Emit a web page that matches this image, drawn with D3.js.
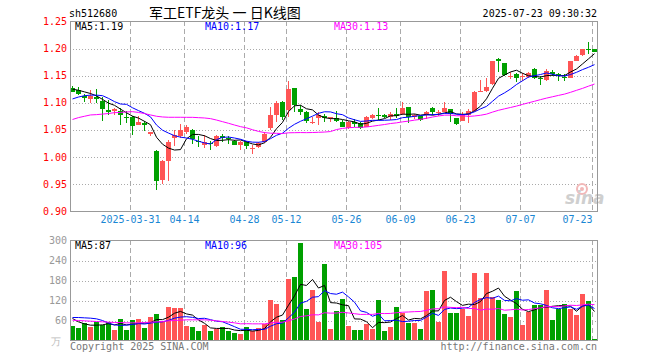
<!DOCTYPE html>
<html><head><meta charset="utf-8">
<script src="https://cdn.jsdelivr.net/npm/d3@7"></script>
<style>
body{margin:0;background:#fff;}
svg{display:block;}
text{font-family:"DejaVu Sans Mono",monospace;font-size:10px;}
</style></head><body>
<svg id="c" width="660" height="360"></svg>
<script>
// ---------- DATA ----------
const dates = ["03-17","03-18","03-19","03-20","03-21","03-24","03-25","03-26","03-27","03-28",
"03-31","04-01","04-02","04-03","04-07","04-08","04-09","04-10","04-11","04-14",
"04-15","04-16","04-17","04-18","04-21","04-22","04-23","04-24","04-25","04-28",
"04-29","04-30","05-06","05-07","05-08","05-09","05-12","05-13","05-14","05-15",
"05-16","05-19","05-20","05-21","05-22","05-23","05-26","05-27","05-28","05-29",
"05-30","06-03","06-04","06-05","06-06","06-09","06-10","06-11","06-12","06-13",
"06-16","06-17","06-18","06-19","06-20","06-23","06-24","06-25","06-26","06-27",
"06-30","07-01","07-02","07-03","07-04","07-07","07-08","07-09","07-10","07-11",
"07-14","07-15","07-16","07-17","07-18","07-21","07-22","07-23"];
const open = [1.128,1.124,1.113,1.106,1.111,1.104,1.087,1.084,1.084,1.073,
1.074,1.058,1.063,1.042,1.010,0.958,0.993,1.035,1.039,1.045,
1.049,1.030,1.022,1.025,1.020,1.038,1.035,1.030,1.022,1.027,
1.014,1.019,1.027,1.054,1.077,1.102,1.087,1.128,1.088,1.083,
1.0625,1.071,1.076,1.072,1.072,1.064,1.053,1.064,1.062,1.056,
1.071,1.077,1.077,1.074,1.079,1.079,1.093,1.074,1.076,1.077,
1.091,1.081,1.083,1.088,1.072,1.066,1.077,1.085,1.119,1.122,
1.134,1.180,1.173,1.148,1.153,1.148,1.148,1.162,1.146,1.142,
1.157,1.1525,1.148,1.146,1.177,1.188,1.199,1.199];
const high = [1.131,1.129,1.117,1.123,1.125,1.111,1.105,1.091,1.091,1.085,
1.076,1.076,1.066,1.046,1.013,0.994,1.032,1.049,1.060,1.058,
1.051,1.038,1.040,1.030,1.040,1.042,1.039,1.032,1.030,1.030,
1.022,1.027,1.045,1.093,1.103,1.104,1.140,1.128,1.096,1.085,
1.074,1.083,1.079,1.074,1.085,1.068,1.066,1.070,1.064,1.075,
1.080,1.091,1.079,1.082,1.091,1.102,1.093,1.080,1.076,1.085,
1.093,1.087,1.101,1.088,1.072,1.082,1.088,1.122,1.142,1.145,
1.177,1.182,1.173,1.156,1.154,1.154,1.156,1.165,1.150,1.162,
1.161,1.1555,1.1525,1.177,1.189,1.199,1.213,1.200];
const low = [1.119,1.115,1.102,1.099,1.099,1.067,1.077,1.077,1.059,1.062,
1.041,1.058,1.047,1.038,0.938,0.950,0.956,1.020,1.034,1.043,
1.023,1.019,1.017,1.013,1.019,1.027,1.024,1.022,1.012,1.015,
1.005,1.016,1.025,1.050,1.064,1.068,1.074,1.083,1.077,1.062,
1.060,1.058,1.064,1.064,1.064,1.055,1.051,1.055,1.051,1.055,
1.070,1.068,1.071,1.068,1.071,1.077,1.062,1.070,1.067,1.070,
1.077,1.076,1.082,1.064,1.059,1.066,1.063,1.083,1.119,1.120,
1.132,1.157,1.150,1.144,1.139,1.141,1.145,1.143,1.132,1.141,
1.150,1.141,1.141,1.145,1.177,1.187,1.190,1.194];
const close = [1.120,1.117,1.108,1.112,1.106,1.088,1.082,1.088,1.077,1.072,
1.057,1.064,1.058,1.046,0.956,0.993,1.028,1.040,1.050,1.056,
1.033,1.028,1.028,1.024,1.038,1.035,1.034,1.022,1.027,1.020,
1.016,1.025,1.042,1.077,1.100,1.074,1.125,1.095,1.083,1.067,
1.064,1.077,1.071,1.074,1.067,1.056,1.065,1.061,1.053,1.074,
1.077,1.075,1.074,1.079,1.075,1.091,1.074,1.077,1.068,1.083,
1.083,1.082,1.090,1.080,1.061,1.080,1.085,1.120,1.122,1.129,
1.177,1.177,1.151,1.150,1.145,1.149,1.154,1.145,1.144,1.158,
1.1525,1.150,1.146,1.177,1.186,1.199,1.197,1.194];
const volume = [43,38,52,41,56,48,56,32,65,32,
61,65,38,71,80,59,101,98,98,43,
41,29,47,29,35,41,29,23,20,41,
29,38,50,122,110,62,185,191,293,95,
152,56,230,35,89,125,43,32,32,50,
35,122,29,41,101,83,53,53,35,149,
152,56,209,83,83,96,74,203,128,203,
131,122,80,71,149,47,86,107,106,152,
62,95,110,95,77,140,118,5];
// moving-average values before a full window is available
const ma5Lead  = [1.125,1.123,1.120,1.117];
const ma10Lead = [1.107,1.1105,1.113,1.114,1.114,1.113,1.108,1.102,1.0976];
const ma30Lead = [1.069,1.0725,1.075,1.0774,1.078,1.079,1.080,1.0817,1.082,1.083,1.0835,1.082,1.080,1.0774,1.075,
1.0737,1.0731,1.0731,1.0731,1.073,1.073,1.0724,1.0718,1.0706,1.068,1.065,1.062,1.0588,1.0558];
const vma5Lead  = [66,56,50,46];
const vma10Lead = [69,69,68,67,65,60,52,47,45];
const vma30Lead = [61,60,59,58,57,56,55,54,54,53,53,53,54,55,56,57,59,60,61,62,62,62,62,61,59,57,55,53,50];
const priceTicks = [1.25,1.20,1.15,1.10,1.05,1.00,0.95,0.90];
const volTicks = [300,240,180,120,60];
const tickDates = ["03-31","04-14","04-28","05-12","05-26","06-09","06-23","07-07","07-23"];
const tickLabels = ["2025-03-31","04-14","04-28","05-12","05-26","06-09","06-23","07-07","07-23"];
const priceMALabels = ["MA5:1.19","MA10:1.17","MA30:1.13"];
const volMALabels = ["MA5:87","MA10:96","MA30:105"];
const symbol = "sh512680";
const title = "军工ETF龙头 一 日K线图";
const stamp = "2025-07-23 09:30:32";

// ---------- DRAW ----------
const RED="#ff5555", GREEN="#00a000", GRID="#aaaaaa";
const svg = d3.select("#c");
const n = dates.length;
const x = d3.scaleLinear().domain([0,88]).range([70,598]);
const yP = d3.scaleLinear().domain([0.90,1.25]).range([211,21.5]);
const yV = d3.scaleLinear().domain([0,300]).range([340.5,240.5]);
const cx = i => x(i)+2.5;
function ma(arr,k,lead){return arr.map((_,i)=> i<k-1 ? lead[i] : d3.mean(arr.slice(i-k+1,i+1)));}
const tickIdx = tickDates.map(d=>dates.indexOf(d));

function panel(top,bottom,yScale,hTicks){
  const g = svg.append("g");
  g.selectAll("line.h").data(hTicks).join("line")
    .attr("x1",70).attr("x2",597)
    .attr("y1",d=>Math.round(yScale(d))+0.5).attr("y2",d=>Math.round(yScale(d))+0.5)
    .attr("stroke",GRID).attr("stroke-dasharray","1,2").attr("shape-rendering","crispEdges");
  g.selectAll("line.v").data(tickIdx).join("line")
    .attr("x1",i=>Math.round(x(i))+0.5).attr("x2",i=>Math.round(x(i))+0.5)
    .attr("y1",top).attr("y2",bottom)
    .attr("stroke",GRID).attr("stroke-dasharray","5,3").attr("shape-rendering","crispEdges");
  return g;
}
panel(21,211,yP,[1.20,1.15,1.10,1.05,1.00,0.95]);
panel(240,340,yV,[240,180,120,60]);

// watermark
const wm = svg.append("g");
wm.append("circle").attr("cx",582).attr("cy",189).attr("r",5).attr("fill","none").attr("stroke","#f2b8b8").attr("stroke-width",2);
wm.append("circle").attr("cx",582).attr("cy",189).attr("r",2).attr("fill","#f2b8b8");
wm.append("text").attr("x",565).attr("y",204).text("sina")
  .style("font-family","DejaVu Sans").style("font-size","17px").style("font-weight","bold").style("font-style","italic").attr("fill","#cfcfcf");

// candles
const cg = svg.append("g").attr("shape-rendering","crispEdges");
const idx = d3.range(n);
const col = i => close[i]>=open[i]?RED:GREEN;
cg.selectAll("line").data(idx).join("line")
  .attr("x1",i=>Math.floor(cx(i))+0.5).attr("x2",i=>Math.floor(cx(i))+0.5)
  .attr("y1",i=>yP(high[i])).attr("y2",i=>yP(low[i])).attr("stroke",col);
cg.selectAll("rect").data(idx).join("rect")
  .attr("x",i=>x(i)).attr("width",5)
  .attr("y",i=>yP(Math.max(open[i],close[i])))
  .attr("height",i=>Math.max(1,Math.abs(yP(open[i])-yP(close[i]))))
  .attr("fill",col);

// volume bars
svg.append("g").attr("shape-rendering","crispEdges").selectAll("rect").data(idx).join("rect")
  .attr("x",i=>x(i)).attr("width",5)
  .attr("y",i=>yV(volume[i])).attr("height",i=>yV(0)-yV(volume[i]))
  .attr("fill",col);

// MA lines
function maLine(vals,yScale,color){
  svg.append("path").datum(vals)
    .attr("d",d3.line().x((d,i)=>cx(i)).y(d=>yScale(d)))
    .attr("fill","none").attr("stroke",color).attr("stroke-width",1);
}
maLine(ma(close,5,ma5Lead),yP,"#000");
maLine(ma(close,10,ma10Lead),yP,"#0000ff");
maLine(ma(close,30,ma30Lead),yP,"#ff00ff");
maLine(ma(volume,5,vma5Lead),yV,"#000");
maLine(ma(volume,10,vma10Lead),yV,"#0000ff");
maLine(ma(volume,30,vma30Lead),yV,"#ff00ff");

// frames
svg.append("rect").attr("x",70.5).attr("y",21.5).attr("width",527).attr("height",189.5)
  .attr("fill","none").attr("stroke","#999").attr("shape-rendering","crispEdges");
svg.append("rect").attr("x",70.5).attr("y",240.5).attr("width",527).attr("height",100)
  .attr("fill","none").attr("stroke","#999").attr("shape-rendering","crispEdges");

// axes
const ay = svg.append("g").attr("transform","translate(68,0)")
  .call(d3.axisLeft(yP).tickValues(priceTicks).tickFormat(d3.format(".2f")).tickSize(0).tickPadding(1));
ay.select(".domain").remove();
ay.selectAll("text").attr("fill","#ff0000").style("font-family","DejaVu Sans Mono").style("font-size","10px");
const av = svg.append("g").attr("transform","translate(68,0)")
  .call(d3.axisLeft(yV).tickValues(volTicks).tickSize(0).tickPadding(1));
av.select(".domain").remove();
av.selectAll("text").attr("fill","#999").style("font-family","DejaVu Sans Mono").style("font-size","10px");
svg.append("text").attr("x",56).attr("y",yV(0)+4).attr("text-anchor","middle").attr("fill","#bbb").text("万");

const ax = svg.append("g").attr("transform","translate(0,214)")
  .call(d3.axisBottom(x).tickValues(tickIdx).tickFormat((d,i)=>tickLabels[i]).tickSize(0).tickPadding(2));
ax.select(".domain").remove();
ax.selectAll("text").attr("fill","#1a87d4").style("font-family","DejaVu Sans Mono").style("font-size","10px")
  .attr("text-anchor",(d,i)=> i===tickIdx.length-1 ? "end":"middle");

// labels
const lx=[75,205,334], lc=["#000","#0000ff","#ff00ff"];
priceMALabels.forEach((t,i)=>svg.append("text").attr("x",lx[i]).attr("y",30).attr("fill",lc[i]).text(t));
volMALabels.forEach((t,i)=>svg.append("text").attr("x",lx[i]).attr("y",249).attr("fill",lc[i]).text(t));
svg.append("text").attr("x",69).attr("y",17).attr("fill","#000").text(symbol);
svg.append("text").attr("x",149).attr("y",18).attr("fill","#000")
  .style("font-family","'Noto Sans CJK SC',sans-serif").style("font-size","14px").text(title);
svg.append("text").attr("x",597).attr("y",17).attr("text-anchor","end").attr("fill","#000").text(stamp);
svg.append("text").attr("x",70).attr("y",350).attr("fill","#777").text("Copyright 2025 SINA.COM");
svg.append("text").attr("x",597).attr("y",350).attr("text-anchor","end").attr("fill","#777").text("http://finance.sina.com.cn");
</script>
</body></html>
